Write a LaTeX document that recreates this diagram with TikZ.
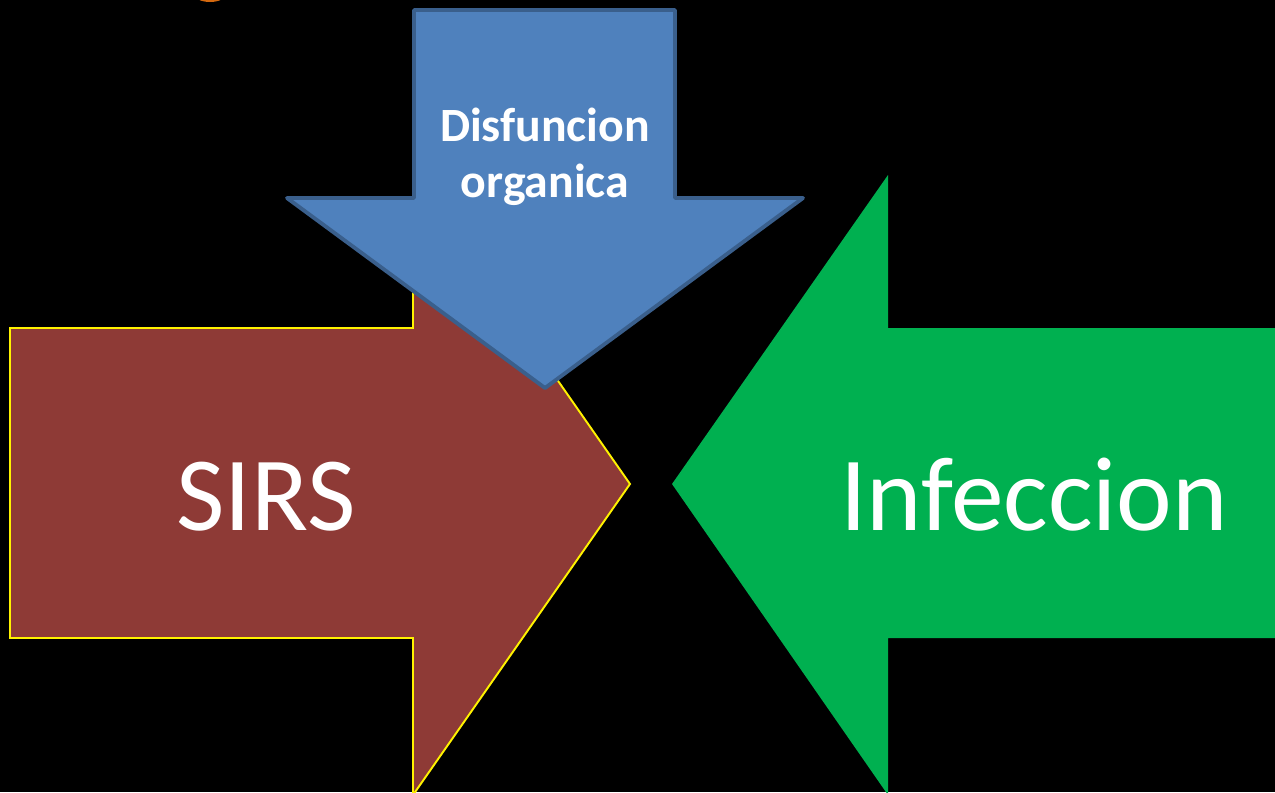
\documentclass[tikz,border=0pt]{standalone}
\usepackage{fontspec}
\setmainfont{Carlito}
\usepackage{tikz}

\definecolor{sirsred}{HTML}{8E3A36}
\definecolor{infgreen}{HTML}{00B050}
\definecolor{disblue}{HTML}{4F81BD}
\definecolor{disedge}{HTML}{3A5F8C}
\definecolor{titleorange}{HTML}{D4690F}

\begin{document}
\begin{tikzpicture}[x=0.02cm,y=-0.02cm,
  arrowtext/.style={text=white,inner sep=0pt},
  bigtext/.style={arrowtext,anchor=base,font=\fontsize{60}{72}\selectfont}]
\fill[black] (0,0) rectangle (1275,792);
\useasboundingbox (0,0) rectangle (1275,792);
\begin{scope}
  \clip (0,0) rectangle (1275,792);
  % bit of the title poking in at the top
  \fill[titleorange] (210,-6) ellipse (16 and 8);
  % left arrow
  \draw[fill=sirsred,draw=yellow,line width=1.1pt] (10,328) -- (413,328) -- (413,173)
    -- (630,484) -- (413,795) -- (413,638) -- (10,638) -- cycle;
  % right arrow
  \fill[infgreen] (1290,328) -- (888,328) -- (888,175) -- (672,484) -- (888,795)
    -- (888,638) -- (1290,638) -- cycle;
  % down arrow
  \draw[fill=disblue,draw=disedge,line width=2.2pt,line join=round] (414,10) -- (675,10)
    -- (675,198) -- (803,198) -- (545,388) -- (287,198) -- (414,198) -- cycle;
\end{scope}
\node[bigtext] (sirs) at (266,530) {SIRS};
\node[bigtext] (infeccion) at (1034,530) {Infeccion};
\node[arrowtext,align=center,font=\bfseries\fontsize{27.2}{32}\selectfont] (disfuncion) at (545,157)
  {Disfuncion\\organica};
\end{tikzpicture}
\end{document}
